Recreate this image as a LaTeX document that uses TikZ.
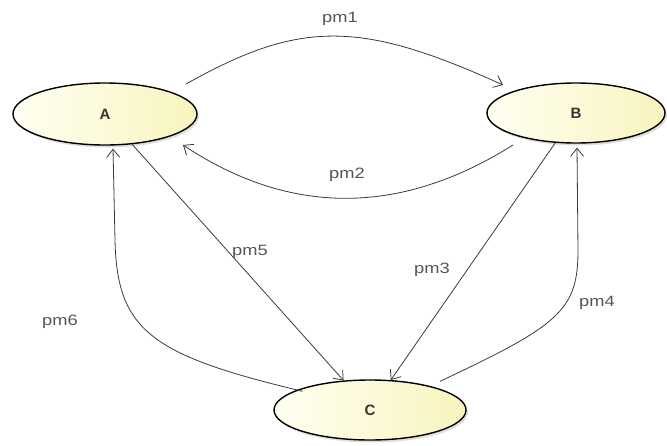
\documentclass[tikz,border=0pt]{standalone}
\usepackage{fontspec}
\setmainfont{Liberation Sans}
\usetikzlibrary{arrows.meta,shapes.geometric,shadows,calc}
\definecolor{edgegray}{HTML}{3A3A3A}
\definecolor{labelgray}{HTML}{555555}
\definecolor{fillpale}{HTML}{FFFFF2}
\definecolor{fillyellow}{HTML}{F8F4BE}
\newcommand{\wide}[1]{\scalebox{1.22}[1]{#1}}
\tikzset{
  state/.style={ellipse, draw=black, line width=1.4pt, inner sep=0pt,
    left color=fillpale, right color=fillyellow,
    drop shadow={opacity=0.25, shadow xshift=2pt, shadow yshift=-2.5pt},
    font=\fontsize{15}{18}\selectfont\bfseries, text=black!80},
  trans/.style={draw=edgegray, line width=0.8pt,
    -{Straight Barb[length=8pt,width=13pt,line width=0.8pt]}},
  lbl/.style={text=labelgray, font=\fontsize{15}{18}\selectfont, inner sep=1pt}
}
\begin{document}
\begin{tikzpicture}[x=1pt,y=-1pt]
\useasboundingbox (0,0) rectangle (667,445);

% states
\node[state, minimum width=184pt, minimum height=62pt] (A) at (105,114) {A};
\node[state, minimum width=178pt, minimum height=60pt] (B) at (576,113) {B};
\node[state, minimum width=192pt, minimum height=60pt] (C) at (370,410) {C};

% end points of the curved transitions, kept a little off the borders
\coordinate (a1) at ($(A.center)+(81pt,30pt)$);
\coordinate (b1) at ($(B.center)+(-73pt,28pt)$);
\coordinate (b2) at ($(B.center)+(-63pt,-32pt)$);
\coordinate (a2) at ($(A.center)+(78pt,-31pt)$);
\coordinate (c4) at ($(C.north)+(70pt,-2pt)$);
\coordinate (b4) at ($(B.south)+(1pt,-4pt)$);
\coordinate (c6) at ($(C.north west)+(1pt,-3pt)$);
\coordinate (a6) at ($(A.south)+(8pt,-3pt)$);

% transitions
\draw[trans] (a1) .. controls (300,20) and (360,20) .. (b1);
\draw[trans] (b2) .. controls (400,216) and (290,216) .. (a2);
\draw[trans] (A) -- (C);
\draw[trans] (B) -- (C);
\draw[trans] (c4) .. controls (560,325) and (578,310) .. (578,250) -- (b4);
\draw[trans] (c6) .. controls (150,355) and (117,330) .. (115,240) -- (a6);

% labels
\node[lbl] (l1) at (340,19) {\wide{pm1}};
\node[lbl] (l2) at (347,175) {\wide{pm2}};
\node[lbl] (l3) at (432,270) {\wide{pm3}};
\node[lbl] (l4) at (597,303) {\wide{pm4}};
\node[lbl] (l5) at (250,252) {\wide{pm5}};
\node[lbl] (l6) at (60,322) {\wide{pm6}};
\end{tikzpicture}
\end{document}
